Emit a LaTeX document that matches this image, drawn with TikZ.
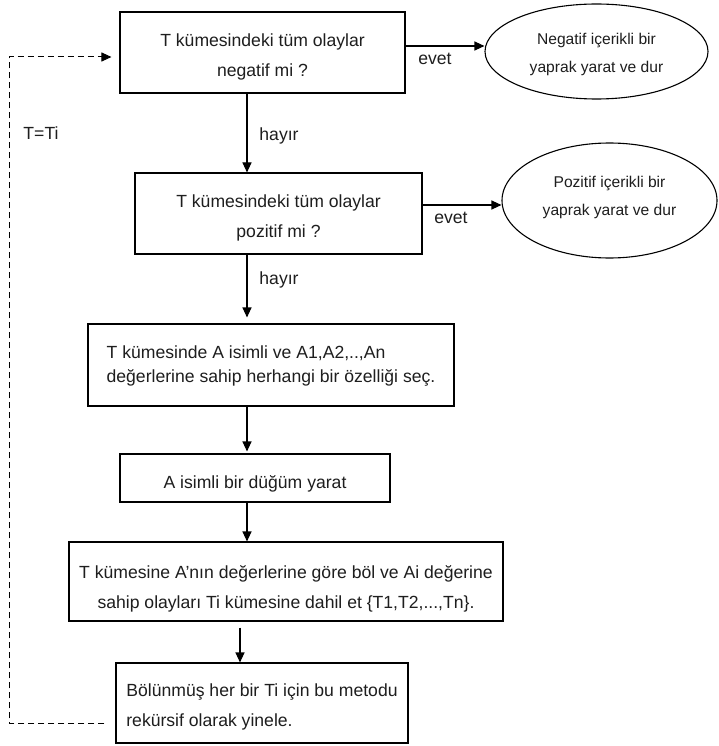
\documentclass[tikz,border=0pt]{standalone}
\usepackage{fontspec}
\setmainfont{Liberation Sans}
\usetikzlibrary{arrows.meta,shapes.geometric,calc}
\definecolor{txt}{HTML}{1E1E1E}
\begin{document}
\begin{tikzpicture}[x=1pt,y=-1pt,
  box/.style={draw, line width=1.1pt, rectangle, inner sep=0pt},
  oval/.style={draw, line width=1.1pt, ellipse, inner sep=0pt},
  btxt/.style={inner sep=0pt, align=center, text=txt, font=\fontsize{17.6pt}{30pt}\selectfont},
  otxt/.style={inner sep=0pt, align=center, text=txt, font=\fontsize{15.6pt}{28pt}\selectfont},
  lbl/.style={inner sep=0pt, text=txt, font=\fontsize{17.6pt}{20pt}\selectfont},
  arr/.style={-{Triangle[length=10pt,width=9pt]}, line width=1.1pt},
  dashline/.style={dash pattern=on 6pt off 4pt, line width=1pt}
]
\fill[white] (0,0) rectangle (718,746);
\useasboundingbox (0,0) rectangle (718,746);

\node[box, minimum width=285pt, minimum height=81pt] (b1) at (262.5,52.5) {};
\node[btxt] (t1) at ([yshift=-4pt]b1.center) {T kümesindeki tüm olaylar\\negatif mi ?};
\node[box, minimum width=287pt, minimum height=81pt] (b2) at (278.5,213.5) {};
\node[btxt] (t2) at ([yshift=-4.5pt]b2.center) {T kümesindeki tüm olaylar\\pozitif mi ?};
\node[box, minimum width=366pt, minimum height=82pt] (b3) at (271,365) {};
\node[btxt, align=left, font=\fontsize{17.6pt}{24pt}\selectfont] (t3) at ([yshift=-1pt]b3.center) {T kümesinde A isimli ve A1,A2,..,An\\değerlerine sahip herhangi bir özelliği seç.};
\node[box, minimum width=270pt, minimum height=48pt] (b4) at (255,478) {};
\node[btxt] (t4) at ([yshift=-6pt]b4.center) {A isimli bir düğüm yarat};
\node[box, minimum width=434pt, minimum height=79pt] (b5) at (286,581.5) {};
\node[btxt] (t5) at ([yshift=-7.5pt]b5.center) {T kümesine A’nın değerlerine göre böl ve Ai değerine\\sahip olayları Ti kümesine dahil et \{T1,T2,...,Tn\}.};
\node[box, minimum width=292pt, minimum height=80pt] (b6) at (262,703) {};
\node[btxt, align=left] (t6) at ([yshift=-3.5pt]b6.center) {Bölünmüş her bir Ti için bu metodu\\rekürsif olarak yinele.};
\node[oval, minimum width=223pt, minimum height=95pt] (e1) at (596.5,51.5) {};
\node[otxt] (te1) at ([yshift=-3pt]e1.center) {Negatif içerikli bir\\yaprak yarat ve dur};
\node[oval, minimum width=215pt, minimum height=115pt] (e2) at (609.5,200.5) {};
\node[otxt] (te2) at ([yshift=3.5pt]e2.center) {Pozitif içerikli bir\\yaprak yarat ve dur};

\coordinate (ax) at (247,0);
\coordinate (bx) at (240,0);
\draw[arr] (b1.south -| ax) -- (b2.north -| ax);
\draw[arr, shorten >=6pt] (b2.south -| ax) -- (b3.north -| ax);
\draw[arr, shorten >=2pt] (b3.south -| ax) -- (b4.north -| ax);
\draw[arr] (b4.south -| ax) -- (b5.north -| ax);
\draw[arr, shorten <=6pt] (b5.south -| bx) -- (b6.north -| bx);

\draw[arr] ([yshift=6.5pt]b1.east) coordinate (s1) -- (s1 -| e1.west);
\draw[arr] ([yshift=8.5pt]b2.east) coordinate (s2) -- (s2 -| e2.west);

\coordinate (lp) at (9,57);
\draw[arr, dashline] ([xshift=-11pt,yshift=-20pt]b6.west) -| (lp) -- ([xshift=-8pt,yshift=-4.5pt]b1.west);

\node[lbl] (h1) at (279,136) {hayır};
\node[lbl] (h2) at (279,280) {hayır};
\node[lbl] (y1) at (435,59) {evet};
\node[lbl] (y2) at (451,218) {evet};
\node[lbl] (tt) at (41,133) {T=Ti};
\end{tikzpicture}
\end{document}
